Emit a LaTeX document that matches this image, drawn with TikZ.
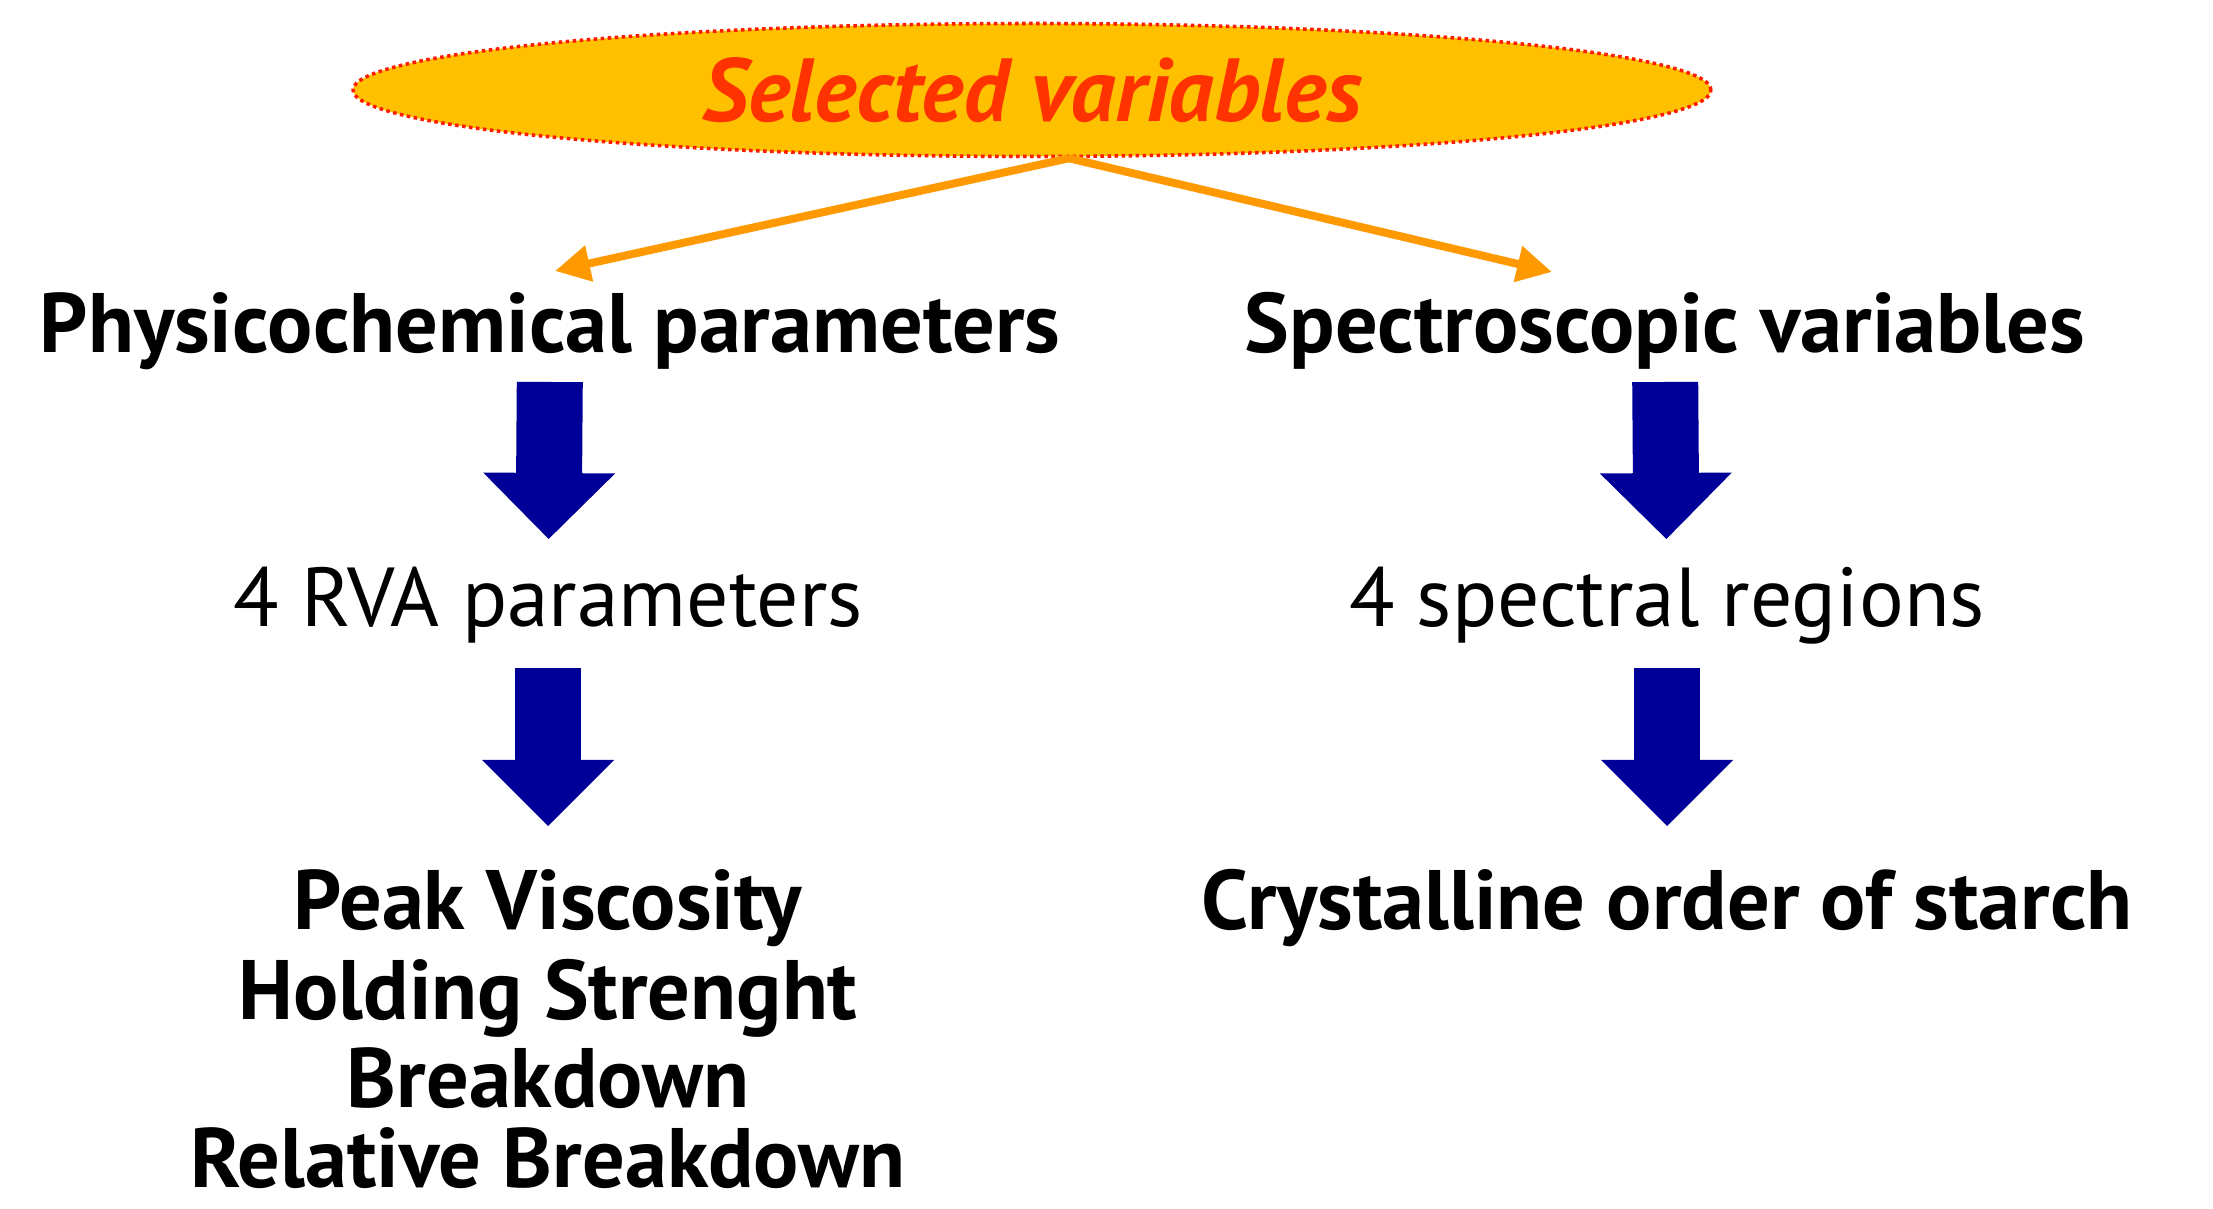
\documentclass[tikz,border=0pt]{standalone}
\usepackage{fontspec}
\setmainfont{PT Sans}
\usepackage{tikz}
\usetikzlibrary{shapes,positioning,calc,arrows.meta}
\definecolor{sel_fill}{HTML}{FFC000}
\definecolor{sel_border}{HTML}{FF1A00}
\definecolor{sel_text}{HTML}{FF3300}
\definecolor{fork_orange}{HTML}{FF9900}
\definecolor{arrow_blue}{HTML}{000099}
\begin{document}
\begin{tikzpicture}[join=round]
		\tikzstyle{txt_bold}=[inner sep=0pt, anchor=base, font=\bfseries\fontsize{24}{28}\selectfont];
		\tikzstyle{txt_reg}=[inner sep=0pt, anchor=base, font=\fontsize{23.8}{28}\selectfont];
		\tikzstyle{sel_oval}=[ellipse, draw=sel_border, fill=sel_fill, line width=1pt, dash pattern=on 1pt off 1pt, minimum width=13.58cm, minimum height=1.33cm, inner sep=0pt];
		\tikzstyle{big_arrow}=[draw=arrow_blue, line width=0.66cm, -{Triangle[length=0.66cm,width=1.32cm,line width=0pt]}];
		\tikzstyle{fork_arrow}=[draw=fork_orange, line width=0.08cm, -{Triangle[length=0.35cm,width=0.35cm]}];

		\useasboundingbox (0,0) rectangle (22.13,12.09);

		\node[sel_oval, text=sel_text, font=\bfseries\itshape\fontsize{25.5}{29}\selectfont] (sel) at (10.32,11.19) {Selected variables};
		\coordinate (fork) at ([xshift=0.37cm]sel.south);

		\node[txt_bold] (phys) at (5.50,8.56) {Physicochemical parameters};
		\node[txt_bold] (spec) at (16.65,8.56) {Spectroscopic variables};
		\node[txt_reg] (rva) at (5.48,5.82) {4 RVA parameters};
		\node[txt_reg] (sreg) at (16.67,5.82) {4 spectral regions};

		\node[txt_bold] (pv) at (5.48,2.79) {Peak Viscosity};
		\node[txt_bold] (hs) at (5.48,1.89) {Holding Strenght};
		\node[txt_bold] (bd) at (5.48,1.01) {Breakdown};
		\node[txt_bold] (rb) at (5.48,0.21) {Relative Breakdown};
		\node[txt_bold] (crys) at (16.67,2.79) {Crystalline order of starch};

		\draw[fork_arrow] (fork) -- ([shift={(0.05,0.82)}]phys.base);
		\draw[fork_arrow] (fork) -- ([shift={(-1.13,0.81)}]spec.base);

		\draw[big_arrow, shorten <=0.29cm, shorten >=0.88cm] (phys.base) -- (rva.base);
		\draw[big_arrow, shorten <=0.41cm, shorten >=1.04cm] (rva.base) -- (pv.base);
		\draw[big_arrow, shorten <=0.29cm, shorten >=0.88cm] (spec.base) -- (sreg.base);
		\draw[big_arrow, shorten <=0.41cm, shorten >=1.04cm] (sreg.base) -- (crys.base);
	\end{tikzpicture}
\end{document}
